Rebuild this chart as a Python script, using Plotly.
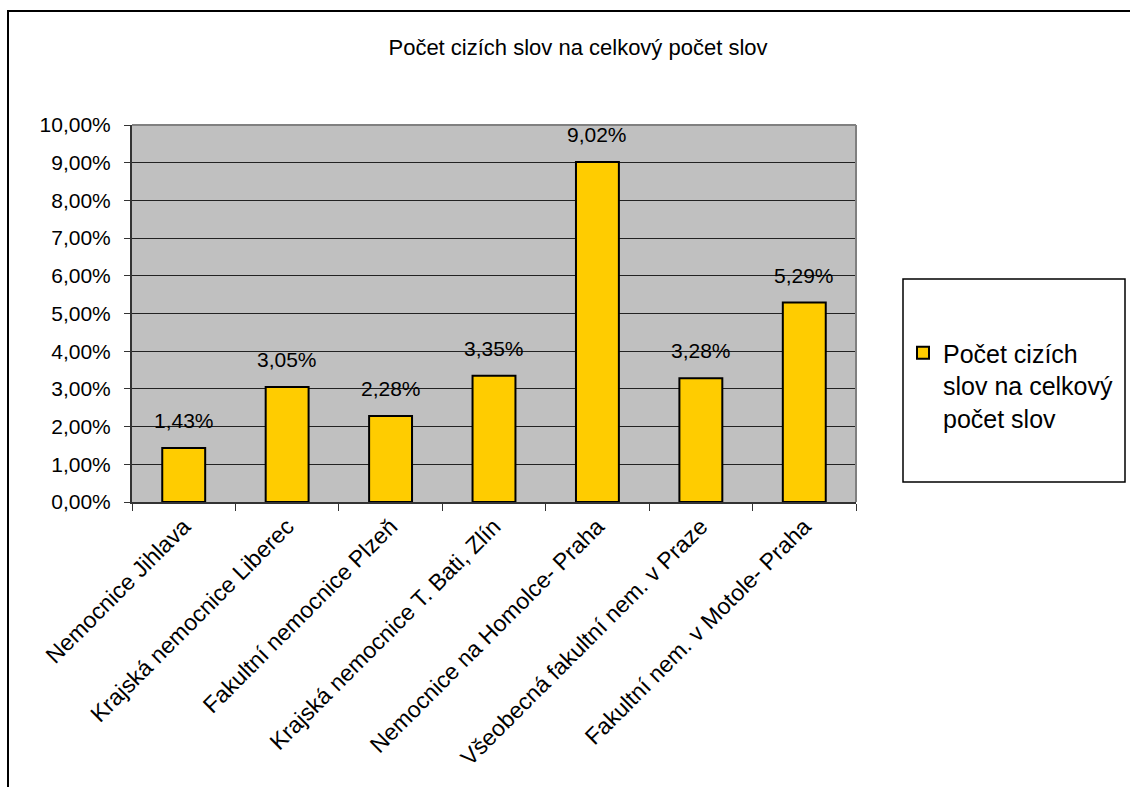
import plotly.graph_objects as go

# Hospitals and share of foreign words in their texts
hospitals = [
    "Nemocnice Jihlava",
    "Krajská nemocnice Liberec",
    "Fakultní nemocnice Plzeň",
    "Krajská nemocnice T. Bati, Zlín",
    "Nemocnice na Homolce- Praha",
    "Všeobecná fakultní nem. v Praze",
    "Fakultní nem. v Motole- Praha",
]
foreign_share = [0.0143, 0.0305, 0.0228, 0.0335, 0.0902, 0.0328, 0.0529]
series_name = "Počet cizích<br>slov na celkový<br>počet slov"
chart_title = "Počet cizích slov na celkový počet slov"

FONT = "Liberation Sans, Arial, sans-serif"

W, H = 1130, 787
L, R, T, B = 132, 856, 125, 502  # plot area in pixels


def px_x(p):
    return (p - L) / (R - L)


def px_y(p):
    return (B - p) / (B - T)


fig = go.Figure()
fig.add_trace(go.Bar(
    x=hospitals,
    y=foreign_share,
    name=series_name,
    marker=dict(color="#FFCC00", line=dict(color="#000000", width=2)),
    showlegend=True,
))

# value labels above the bars
for h, v in zip(hospitals, foreign_share):
    fig.add_annotation(
        x=h, y=v, xref="x", yref="y",
        text=f"{v * 100:.2f}%".replace(".", ","),
        showarrow=False, yanchor="bottom", yshift=14,
        font=dict(family=FONT, size=21, color="#000000"),
    )

shapes = [
    # chart frame
    dict(type="rect", xref="paper", yref="paper",
         x0=px_x(8), x1=px_x(1160), y0=px_y(820), y1=px_y(11),
         line=dict(color="#000000", width=2), fillcolor="rgba(0,0,0,0)", layer="above"),
    # plot area top and right border
    dict(type="line", xref="paper", yref="paper", x0=0, x1=1, y0=1, y1=1,
         line=dict(color="#808080", width=2), layer="above"),
    dict(type="line", xref="paper", yref="paper", x0=1, x1=1, y0=0, y1=1,
         line=dict(color="#808080", width=2), layer="above"),
    # legend box
    dict(type="rect", xref="paper", yref="paper",
         x0=px_x(903), x1=px_x(1125), y0=px_y(482), y1=px_y(279),
         line=dict(color="#000000", width=1.5), fillcolor="rgba(0,0,0,0)", layer="above"),
]

fig.update_layout(
    width=W, height=H,
    margin=dict(l=L, r=W - R, t=T, b=H - B, autoexpand=False),
    paper_bgcolor="#FFFFFF",
    plot_bgcolor="#C0C0C0",
    separators=", ",
    font=dict(family=FONT, size=21, color="#000000"),
    title=dict(text=chart_title, x=px_x(578), xref="paper", xanchor="center",
               y=1 - 47 / H, yref="container", yanchor="middle",
               font=dict(family=FONT, size=22, color="#000000")),
    bargap=0.585,
    showlegend=True,
    legend=dict(
        x=px_x(903), y=px_y(330), xanchor="left", yanchor="top",
        xref="paper", yref="paper",
        bgcolor="rgba(0,0,0,0)", borderwidth=0,
        font=dict(family=FONT, size=25, color="#000000"),
        valign="top",
    ),
    shapes=shapes,
)

fig.update_xaxes(
    showline=True, linecolor="#333333", linewidth=2,
    ticks="outside", tickson="boundaries", ticklen=7, tickcolor="#333333", tickwidth=1,
    tickangle=-45, showgrid=False,
    tickfont=dict(family=FONT, size=23, color="#000000"),
)
fig.update_yaxes(
    range=[0, 0.10], dtick=0.01, tickformat=".2%",
    showline=True, linecolor="#333333", linewidth=2,
    ticks="outside", ticklen=6, tickcolor="#333333", tickwidth=1,
    showgrid=True, gridcolor="#222222", gridwidth=1,
    zeroline=False, ticklabelstandoff=9,
    tickfont=dict(family=FONT, size=21, color="#000000"),
)

fig.write_html("out.html")
